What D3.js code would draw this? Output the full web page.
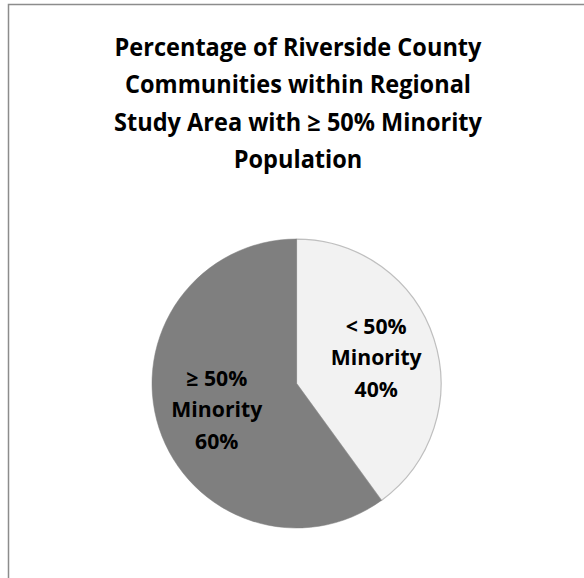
<!DOCTYPE html>
<html>
<head>
<meta charset="utf-8">
<script src="https://cdn.jsdelivr.net/npm/d3@7"></script>
<style>
  html, body { margin: 0; padding: 0; background: #fff; }
  svg { display: block; }
</style>
</head>
<body>
<svg id="chart" width="584" height="578"></svg>
<script>
const titleLines = ["Percentage of Riverside County", "Communities within Regional", "Study Area with \u2265 50% Minority", "Population"];
const categories = ["< 50% Minority", "\u2265 50% Minority"];
const labelLines = [["< 50%", "Minority", "40%"], ["\u2265 50%", "Minority", "60%"]];
const values = [40, 60];
const colors = ["#f2f2f2", "#7f7f7f"];

const svg = d3.select("#chart");
const FONT = "'Open Sans', sans-serif";

// outer chart border (cropped at right/bottom)
svg.append("rect")
  .attr("x", 8.5).attr("y", 4.5)
  .attr("width", 620).attr("height", 620)
  .attr("fill", "#fff")
  .attr("stroke", "#8c8c8c").attr("stroke-width", 1.5);

// title, condensed horizontally to mimic Calibri metrics
const titleCx = 298;
const titleG = svg.append("g");
const title = titleG.append("text")
  .attr("text-anchor", "middle")
  .attr("font-family", FONT)
  .attr("font-weight", "bold")
  .attr("font-size", 24.5)
  .attr("fill", "#000");
titleLines.forEach((t, i) => {
  title.append("tspan").attr("x", 0).attr("y", 56 + i * 37.5).text(t);
});
const w0 = title.select("tspan").node().getComputedTextLength();
titleG.attr("transform", `translate(${titleCx},0) scale(${367 / w0},1)`);

// pie
const cx = 296.5, cy = 383.5, R = 144.5;
const pie = d3.pie().sort(null).value(d => d)(values);
const arc = d3.arc().innerRadius(0).outerRadius(R);
const labelArc = d3.arc().innerRadius(R * 0.58).outerRadius(R * 0.58);

const g = svg.append("g").attr("transform", `translate(${cx},${cy})`);
g.selectAll("path.slice")
  .data(pie)
  .join("path")
  .attr("class", "slice")
  .attr("d", arc)
  .attr("fill", (d, i) => colors[i])
  .attr("stroke", (d, i) => i === 0 ? "#bfbfbf" : colors[i])
  .attr("stroke-width", (d, i) => i === 0 ? 1.25 : 0.5);

// labels
pie.forEach((d, i) => {
  const [x, y] = labelArc.centroid(d);
  const lg = g.append("g");
  const t = lg.append("text")
    .attr("text-anchor", "middle")
    .attr("font-family", FONT)
    .attr("font-weight", "bold")
    .attr("font-size", 21.5)
    .attr("fill", "#000");
  const lines = labelLines[i];
  lines.forEach((s, j) => {
    t.append("tspan")
      .attr("x", 0)
      .attr("y", (j - (lines.length - 1) / 2) * 31.5)
      .attr("dy", "0.36em")
      .text(s);
  });
  const wm = t.selectAll("tspan").nodes()[1].getComputedTextLength();
  lg.attr("transform", `translate(${x},${y}) scale(${91 / wm},1)`);
});
</script>
</body>
</html>
